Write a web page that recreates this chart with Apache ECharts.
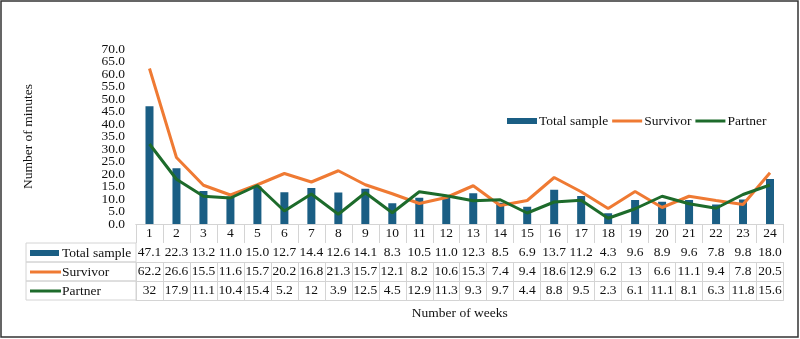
<!DOCTYPE html>
<html lang="en">
<head>
    <meta charset="UTF-8" />
    <title>Number of minutes by week</title>
    <script src="https://cdn.jsdelivr.net/npm/echarts@6.0.0/dist/echarts.min.js"></script>
    <style>
        html, body { margin: 0; padding: 0; background: #fff; }
        #chart { width: 800px; height: 339px; }
    </style>
</head>
<body>
    <div id="chart"></div>
    <script>
        const weeks = ['1','2','3','4','5','6','7','8','9','10','11','12','13','14','15','16','17','18','19','20','21','22','23','24'];
        const totalSample = [47.1, 22.3, 13.2, 11.0, 15.0, 12.7, 14.4, 12.6, 14.1, 8.3, 10.5, 11.0, 12.3, 8.5, 6.9, 13.7, 11.2, 4.3, 9.6, 8.9, 9.6, 7.8, 9.8, 18.0];
        const survivor = [62.2, 26.6, 15.5, 11.6, 15.7, 20.2, 16.8, 21.3, 15.7, 12.1, 8.2, 10.6, 15.3, 7.4, 9.4, 18.6, 12.9, 6.2, 13, 6.6, 11.1, 9.4, 7.8, 20.5];
        const partner = [32, 17.9, 11.1, 10.4, 15.4, 5.2, 12, 3.9, 12.5, 4.5, 12.9, 11.3, 9.3, 9.7, 4.4, 8.8, 9.5, 2.3, 6.1, 11.1, 8.1, 6.3, 11.8, 15.6];

        const FONT = '"Liberation Serif", "Times New Roman", serif';
        const FS = 13.5;
        const GRID_COLOR = '#d4d4d4';
        const TEXT_COLOR = '#111';
        const ROW_H = 19;
        const C_BAR = '#1a5e84';
        const C_SURV = '#ef7a33';
        const C_PART = '#1d6b2b';
        const LINE_ICON = 'path://M0,0H20V2H0Z';

        const chart = echarts.init(document.getElementById('chart'));

        // one category axis per table row, stacked down with offset
        function tableAxis(row, formatter, extra) {
            return Object.assign({
                type: 'category',
                data: weeks,
                position: 'bottom',
                offset: row * ROW_H,
                axisLine: { show: true, lineStyle: { color: GRID_COLOR, width: 1 } },
                axisTick: { show: true, interval: 0, length: ROW_H, lineStyle: { color: GRID_COLOR } },
                axisLabel: {
                    show: true, interval: 0, margin: 9, verticalAlign: 'middle',
                    fontFamily: FONT, fontSize: FS, color: TEXT_COLOR,
                    formatter: formatter
                },
                splitLine: { show: false }
            }, extra || {});
        }

        // y labels are split over two axes (tens / fives) so none get hidden as overlapping
        function valueAxis(showTens, extra) {
            return Object.assign({
                type: 'value', min: 0, max: 70, interval: showTens ? 10 : 5,
                position: 'left',
                axisLine: { show: false }, axisTick: { show: false }, splitLine: { show: false },
                axisLabel: {
                    margin: 11, fontFamily: FONT, fontSize: FS, color: TEXT_COLOR, hideOverlap: false,
                    showMinLabel: showTens, showMaxLabel: showTens,
                    formatter: v => (showTens || v % 10 === 5) ? v.toFixed(1) : ''
                }
            }, extra || {});
        }

        const tableTop = 224;
        const leftX = 26, leftW = 110;
        const rowsLeft = [
            { name: 'Total sample', kind: 'bar', color: C_BAR },
            { name: 'Survivor', kind: 'line', color: C_SURV },
            { name: 'Partner', kind: 'line', color: C_PART }
        ];
        const graphics = [
            { type: 'rect', shape: { x: 1, y: 1, width: 797, height: 336 }, style: { fill: 'none', stroke: '#333', lineWidth: 1.5 } }
        ];
        rowsLeft.forEach((r, i) => {
            const y = tableTop + ROW_H * (i + 1);
            graphics.push({ type: 'rect', shape: { x: leftX, y: y, width: leftW, height: ROW_H }, style: { fill: 'none', stroke: GRID_COLOR, lineWidth: 1 } });
            if (r.kind === 'bar') {
                graphics.push({ type: 'rect', shape: { x: 30, y: y + 7, width: 29, height: 6 }, style: { fill: r.color } });
            } else {
                graphics.push({ type: 'line', shape: { x1: 30, y1: y + 10, x2: 61, y2: y + 10 }, style: { stroke: r.color, lineWidth: 3 } });
            }
            graphics.push({ type: 'text', x: 62, y: y + 10, style: { text: r.name, font: FS + 'px ' + FONT, fill: TEXT_COLOR, verticalAlign: 'middle' } });
        });

        chart.setOption({
            animation: false,
            backgroundColor: '#fff',
            textStyle: { fontFamily: FONT },
            grid: { left: 136, right: 16.5, top: 49, bottom: 115, containLabel: false },
            legend: {
                left: 502, top: 109,
                itemWidth: 30, itemHeight: 6, itemGap: 4,
                textStyle: { fontFamily: FONT, fontSize: FS, color: TEXT_COLOR, padding: [0, 0, 0, -3] },
                data: [
                    { name: 'Total sample', icon: 'rect' },
                    { name: 'Survivor', icon: LINE_ICON },
                    { name: 'Partner', icon: LINE_ICON }
                ]
            },
            xAxis: [
                tableAxis(0, v => v),
                tableAxis(1, (v, i) => totalSample[i].toFixed(1)),
                tableAxis(2, (v, i) => String(survivor[i])),
                tableAxis(3, (v, i) => String(partner[i])),
                tableAxis(4, () => '', {
                    axisTick: { show: false },
                    axisLabel: { show: false },
                    name: 'Number of weeks', nameLocation: 'middle', nameGap: 6,
                    nameTextStyle: { fontFamily: FONT, fontSize: FS, color: TEXT_COLOR }
                })
            ],
            yAxis: [
                valueAxis(true, {
                    name: 'Number of minutes', nameLocation: 'middle', nameRotate: 90, nameGap: 101,
                    nameTextStyle: { fontFamily: FONT, fontSize: FS, color: TEXT_COLOR }
                }),
                valueAxis(false)
            ],
            series: [
                { name: 'Total sample', type: 'bar', data: totalSample, barWidth: 8, itemStyle: { color: C_BAR } },
                { name: 'Survivor', type: 'line', data: survivor, symbol: 'none', lineStyle: { color: C_SURV, width: 3 }, itemStyle: { color: C_SURV } },
                { name: 'Partner', type: 'line', data: partner, symbol: 'none', lineStyle: { color: C_PART, width: 3 }, itemStyle: { color: C_PART } }
            ],
            graphic: graphics
        });
    </script>
</body>
</html>
